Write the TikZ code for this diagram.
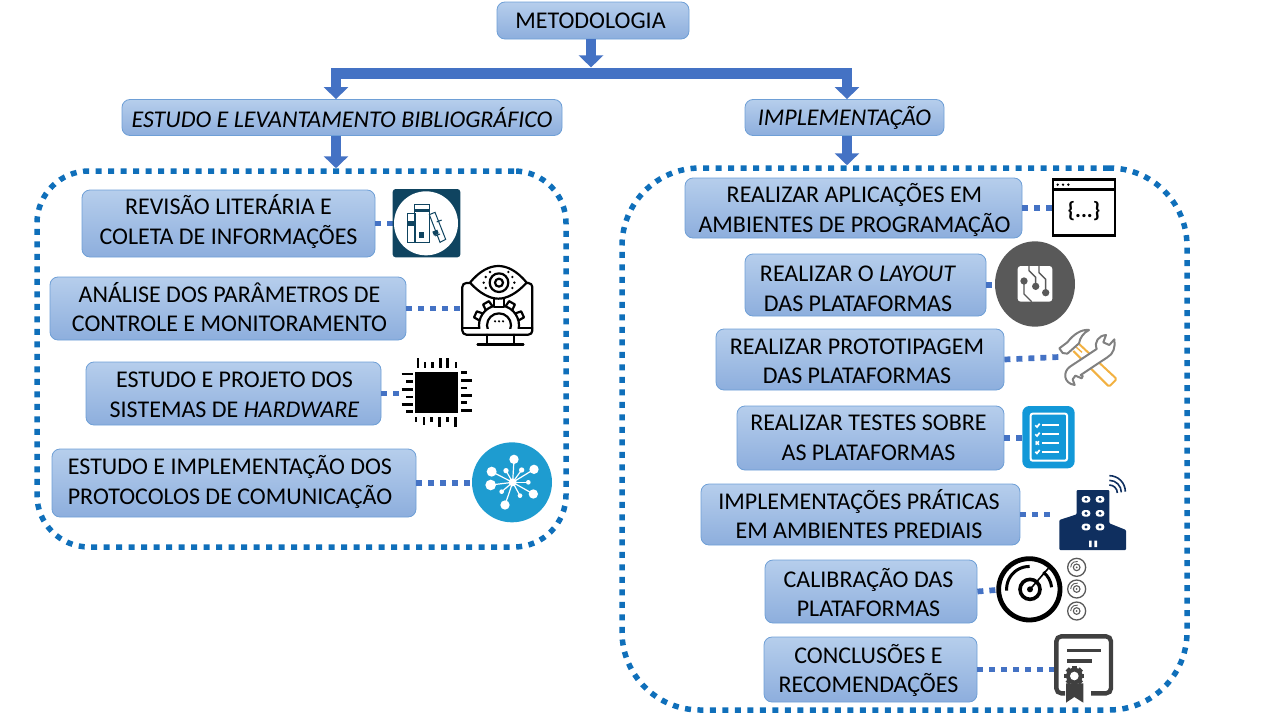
\documentclass[tikz,border=0pt]{standalone}
\usepackage{fontspec}
\setmainfont{Carlito}
\usetikzlibrary{arrows.meta,calc}
\definecolor{arrowblue}{HTML}{4472C4}
\definecolor{framedot}{HTML}{0F6FBA}
\definecolor{boxedge}{HTML}{6E9FD6}
\definecolor{boxtop}{HTML}{B6CEEC}
\definecolor{boxbot}{HTML}{8DAEDD}
\definecolor{teal}{HTML}{0F4460}
\definecolor{hubblue}{HTML}{1E9CD0}
\definecolor{listblue}{HTML}{1298D8}
\definecolor{navy}{HTML}{0F2F5F}
\definecolor{tgrey}{HTML}{808080}
\definecolor{torange}{HTML}{F2B141}
\definecolor{dkgrey}{HTML}{595959}
\definecolor{certgrey}{HTML}{404040}
% two centred lines, moved by dx and dy (dy downwards) inside their box
\newcommand{\ltx}[4]{\raisebox{\dimexpr 7.1pt-#2pt\relax}[0pt][0pt]{\makebox[0pt]{\hspace*{#1pt}\hspace*{#1pt}#3}}\raisebox{\dimexpr -22.4pt-#2pt\relax}[0pt][0pt]{\makebox[0pt]{\hspace*{#1pt}\hspace*{#1pt}#4}}}
\tikzset{
  bx/.style={draw=boxedge,line width=0.8pt,rounded corners=8pt,top color=boxtop,bottom color=boxbot,
    inner sep=0pt,font=\fontsize{24}{30}\selectfont,text=black},
  blockarrow/.style={draw=arrowblue,line width=10.5pt,-{Triangle[width=24pt,length=12pt]}},
  dotlink/.style={draw=arrowblue,line width=5.7pt,dash pattern=on 6pt off 6pt},
  framebox/.style={draw=framedot,line width=5.5pt,dash pattern=on 6pt off 6.5pt,inner sep=0pt},
  iconbox/.style={inner sep=0pt,outer sep=0pt},
  zoomed/.style 2 args={shift={(#1,#2)},x=0.33333pt,y=-0.33333pt},
}
\begin{document}
\begin{tikzpicture}[x=1pt,y=-1pt]
\useasboundingbox (0,0) rectangle (1280,720);

% dotted frames
\node[framebox,rounded corners=52pt,minimum width=529pt,minimum height=376pt] (lf) at (301.5,359) {};
\node[framebox,rounded corners=78pt,minimum width=565pt,minimum height=542pt] (rf) at (904.5,439) {};

% header boxes
\node[bx,minimum width=192pt,minimum height=37pt] (meto) at (593,20.5) {\hspace*{-5pt}METODOLOGIA};
\node[bx,minimum width=440pt,minimum height=36pt] (estudo) at (342,117.5) {\itshape ESTUDO E LEVANTAMENTO BIBLIOGRÁFICO};
\node[bx,minimum width=199pt,minimum height=36pt] (impl) at (844.5,117.5) {\itshape IMPLEMENTAÇÃO};

% left boxes
\node[bx,minimum width=293pt,minimum height=67pt] (b1) at (228.5,223.5) {\ltx{0}{-1.5}{REVISÃO LITERÁRIA E}{COLETA DE INFORMAÇÕES}};
\node[bx,minimum width=356pt,minimum height=63pt] (b2) at (228,308.5) {\ltx{1.5}{1}{ANÁLISE DOS PARÂMETROS DE}{CONTROLE E MONITORAMENTO}};
\node[bx,minimum width=295pt,minimum height=63pt] (b3) at (233.5,393.5) {\ltx{1}{1.5}{ESTUDO E PROJETO DOS}{SISTEMAS DE \textit{HARDWARE}}};
\node[bx,minimum width=364pt,minimum height=68pt] (b4) at (234,483) {\ltx{-4}{-1}{ESTUDO E IMPLEMENTAÇÃO DOS}{PROTOCOLOS DE COMUNICAÇÃO}};

% right boxes
\node[bx,minimum width=337pt,minimum height=60pt] (c1) at (853.5,208) {\ltx{1}{2}{REALIZAR APLICAÇÕES EM}{AMBIENTES DE PROGRAMAÇÃO}};
\node[bx,minimum width=241pt,minimum height=62pt] (c2) at (865.5,285) {\ltx{-7.5}{4}{REALIZAR O \textit{LAYOUT}}{DAS PLATAFORMAS}};
\node[bx,minimum width=288pt,minimum height=61pt] (c3) at (860,359.5) {\ltx{-3}{2}{REALIZAR PROTOTIPAGEM}{DAS PLATAFORMAS}};
\node[bx,minimum width=267pt,minimum height=64pt] (c4) at (870.5,438) {\ltx{-2}{0}{REALIZAR TESTES SOBRE}{AS PLATAFORMAS}};
\node[bx,minimum width=319pt,minimum height=61pt] (c5) at (860.5,514.5) {\ltx{-1.5}{2}{IMPLEMENTAÇÕES PRÁTICAS}{EM AMBIENTES PREDIAIS}};
\node[bx,minimum width=212pt,minimum height=63pt] (c6) at (871,591.5) {\ltx{-2.5}{3}{CALIBRAÇÃO DAS}{PLATAFORMAS}};
\node[bx,minimum width=213pt,minimum height=65pt] (c7) at (870.5,669.5) {\ltx{-2}{1}{CONCLUSÕES E}{RECOMENDAÇÕES}};

% block arrows
\coordinate (bar) at (591,73.5);
\draw[blockarrow] ([xshift=-2pt]meto.south) -- ++(0,28);
\draw[blockarrow] (bar) -| ([xshift=-6pt]estudo.north);
\draw[blockarrow] (bar) -| ([xshift=2.5pt]impl.north);
\draw[blockarrow] ([xshift=-6pt]estudo.south) -- ([xshift=-6pt]estudo.south |- lf.north);
\draw[blockarrow] ([xshift=2.5pt]impl.south) -- ([xshift=2.5pt]impl.south |- rf.north);

% icon anchors
\node[iconbox,minimum width=68pt,minimum height=68pt] (i1) at (426.5,223) {};
\node[iconbox,minimum width=70pt,minimum height=84pt] (i2) at (495,307) {};
\node[iconbox,minimum width=70pt,minimum height=72pt] (i3) at (436,392) {};
\node[iconbox,minimum width=80pt,minimum height=80pt] (i4) at (512,482) {};
\node[iconbox,minimum width=63pt,minimum height=58pt] (j1) at (1084,207) {};
\node[iconbox,minimum width=80pt,minimum height=86pt] (j2) at (1035,284) {};
\node[iconbox,minimum width=58pt,minimum height=60pt] (j3) at (1088,357) {};
\node[iconbox,minimum width=53pt,minimum height=63pt] (j4) at (1048,437) {};
\node[iconbox,minimum width=76pt,minimum height=74pt] (j5) at (1089,513) {};
\node[iconbox,minimum width=68pt,minimum height=68pt] (j6) at (1030,590) {};
\node[iconbox,minimum width=56pt,minimum height=68pt] (j7) at (1085,668) {};

% dotted links
\draw[dotlink] (b1.east) -- (b1.east -| i1.west);
\draw[dotlink] (b2.east) -- (b2.east -| i2.west);
\draw[dotlink] (b3.east) -- (b3.east -| i3.west);
\draw[dotlink] (b4.east) -- (b4.east -| i4.west);
\draw[dotlink] (c1.east) -- (c1.east -| j1.west);
\draw[dotlink] (c2.east) -- (c2.east -| j2.west);
\draw[dotlink] (c3.east) -- (j3.west);
\draw[dotlink] (c4.east) -- (c4.east -| j4.west);
\draw[dotlink] (c5.east) -- (c5.east -| j5.west);
\draw[dotlink] (c6.east) -- (j6.west);
\draw[dotlink] (c7.east) -- (c7.east -| j7.west);

% --- icon: books
\begin{scope}[zoomed={380}{180}]
  \fill[teal,rounded corners=3pt] (38,27) rectangle (241,232);
  \fill[white] (138,130) circle[radius=96];
  \begin{scope}[draw=teal,line width=1pt]
    \draw (81,100) rectangle (105,187);
    \draw (103,72) rectangle (147,187);
    \fill[teal] (81,122) rectangle (105,138);
    \fill[teal] (103,87) rectangle (147,97);
    \fill[teal] (116,157) rectangle (133,175);
    \draw (148,104) -- (165,97) -- (197,178) -- (180,187) -- cycle;
    \draw (170,126) -- (185,120);
    \draw (165,168) -- (180,162);
    \fill[teal] (157,155) -- (172,149) -- (176,160) -- (162,167) -- cycle;
  \end{scope}
\end{scope}

% --- icon: monitor with eye and gear
\begin{scope}[zoomed={455}{262},line width=2.2pt,line join=round,line cap=round]
  \draw[rounded corners=4pt] (48,63) -- (22,63) -- (22,218) -- (232,218) -- (232,63) -- (210,63);
  \draw (22,198) -- (232,198);
  \draw (95,218) -- (95,247) (177,218) -- (177,247);
  \draw[line width=2.6pt] (68,248) -- (205,248);
  \begin{scope}
    \clip (0,0) rectangle (240,198);
    \foreach \a in {25,60,120,155} {
      \draw[shift={(132,190)},rotate=\a,fill=white] (55,-12) -- (78,-10) -- (78,10) -- (55,12);
    }
    \draw[fill=white] (132,190) circle[radius=60];
    \draw (132,190) circle[radius=36];
    \fill[black] (120,178) circle[radius=3.5] (132,178) circle[radius=3.5] (144,178) circle[radius=3.5];
  \end{scope}
  \draw[fill=white] (118,108) -- (118,135) -- (146,135) -- (146,108);
  \draw[fill=white] (45,62) .. controls (75,25) and (105,12) .. (130,12) .. controls (155,12) and (185,25) .. (215,62) .. controls (185,95) and (155,110) .. (130,110) .. controls (105,110) and (75,95) .. (45,62) -- cycle;
  \draw (132,62) circle[radius=28] (132,62) circle[radius=12];
  \foreach \p in {(92,45),(86,62),(92,78),(172,45),(178,62),(172,78),(105,30),(160,30)} {\fill[black] \p circle[radius=4];}
\end{scope}

% --- icon: chip
\begin{scope}[zoomed={380}{350}]
  \fill[black] (105,65) rectangle (233,190);
  \begin{scope}[line width=2.7pt,draw=black]
    \foreach \x/\t in {114/24,135/36,158/36,182/24,203/24,228/36} {\draw (\x,\t) -- (\x,53);}
    \foreach \x/\b in {108/217,132/224,155/217,178/232,202/217,226/232} {\draw (\x,202) -- (\x,\b);}
    \foreach \y/\l in {72/65,95/78,118/65,141/78,163/65,185/78} {\draw (\l,\y) -- (98,\y);}
    \foreach \y/\r in {68/262,91/275,114/262,136/275,158/262,182/275} {\draw (243,\y) -- (\r,\y);}
  \end{scope}
\end{scope}

% --- icon: hub
\begin{scope}[zoomed={380}{350}]
  \fill[hubblue] (396,397) circle[radius=120];
  \foreach \x/\y/\r in {402/328/14,462/358/14,335/365/15,332/405/16,460/432/14,375/465/14,378/362/8,425/360/8,445/397/7,365/425/7,420/437/7} {
    \draw[white,line width=1.2pt] (398,397) -- (\x,\y);
    \fill[white] (\x,\y) circle[radius=\r];
  }
  \fill[white] (398,397) circle[radius=12];
\end{scope}

% --- icon: code window
\begin{scope}[zoomed={980}{170}]
  \draw[black,line width=2.4pt,fill=white] (219,28) rectangle (405,196);
  \draw[black,line width=2.4pt] (219,58) -- (405,58);
  \fill[black] (233,44) circle[radius=4] (249,44) circle[radius=4] (265,44) circle[radius=4];
  \node[inner sep=0pt,font=\fontsize{22}{22}\selectfont\bfseries] (codet) at (312,122) {\{...\}};
\end{scope}

% --- icon: circuit
\begin{scope}[zoomed={980}{170}]
  \fill[dkgrey] (165,342) ellipse[x radius=120,y radius=128];
  \fill[white,rounded corners=3pt] (113,288) rectangle (217,395);
  \begin{scope}[draw=dkgrey,line width=1.4pt]
    \draw (132,333) -- (132,372) -- (155,395);
    \draw (167,349) -- (167,322) -- (147,302) -- (147,288);
    \draw (197,368) -- (197,328) -- (177,308) -- (177,288);
    \fill[dkgrey] (132,333) circle[radius=11] (167,349) circle[radius=11] (197,368) circle[radius=11];
  \end{scope}
\end{scope}

% --- icon: tools
\begin{scope}[zoomed={1050}{325},line width=2pt,line join=round]
  \draw[torange,rounded corners=1.5pt] (83,53) -- (200,162) -- (177,185) -- (70,78);
  \draw[torange,line width=1.4pt] (78,66) -- (96,82);
  \draw[tgrey,fill=white] (28,70) -- (52,52) .. controls (70,28) and (95,12) .. (117,15) .. controls (100,24) and (90,38) .. (87,55) -- (52,86) -- (38,84) -- cycle;
  \draw[tgrey,fill=white] (168,30) .. controls (146,32) and (132,50) .. (140,72) -- (60,125) .. controls (38,140) and (40,175) .. (74,180) -- (68,163) -- (76,152) -- (95,160) .. controls (100,152) and (98,150) .. (92,150) -- (172,97) .. controls (190,88) and (197,65) .. (193,43) -- (178,60) -- (160,52) -- cycle;
\end{scope}

% --- icon: checklist
\begin{scope}[zoomed={980}{395}]
  \fill[listblue,rounded corners=7pt] (127,33) rectangle (284,220);
  \draw[white,line width=2pt,rounded corners=2pt] (152,56) rectangle (261,197);
  \foreach \y in {91,118,144,170} {\draw[white,line width=2pt] (187,\y) -- (237,\y);}
  \foreach \y in {91,118,170} {\draw[white,line width=1.7pt] (166,\y) -- (171,{\y+5}) -- (179,{\y-5});}
  \draw[white,line width=1.6pt] (167,139) -- (177,149) (177,139) -- (167,149);
\end{scope}

% --- icon: building
\begin{scope}[zoomed={980}{395}]
  \fill[navy,rounded corners=1pt] (238,465) -- (238,375) -- (290,358) -- (290,285) -- (388,285) -- (388,385) -- (438,405) -- (438,465) -- cycle;
  \foreach \x in {318,360} \foreach \y in {313,355,396} {
    \fill[white,rounded corners=3pt] (\x-13,\y-10) rectangle (\x+13,\y+10);
    \fill[navy] (\x,\y) circle[radius=5];
  }
  \fill[white] (327,437) rectangle (335,456) (343,437) rectangle (351,456);
  \begin{scope}[draw=navy,line width=1.6pt]
    \draw (388,270) arc[start angle=-90,delta angle=90,radius=24];
    \draw (388,256) arc[start angle=-90,delta angle=90,radius=36];
    \draw (388,242) arc[start angle=-90,delta angle=90,radius=48];
  \end{scope}
\end{scope}

% --- icon: gauge
\begin{scope}[zoomed={980}{550},line cap=butt]
  \draw[black,line width=4.8pt] (148,118) circle[radius=92];
  \draw[black,line width=3pt] (80,122) arc[start angle=176,delta angle=95,radius=68];
  \draw[black,line width=3pt] (190,66) arc[start angle=-51,delta angle=45,radius=68];
  \draw[black,line width=3.6pt] (150,118) circle[radius=30];
  \draw[black,line width=1.6pt] (150,118) -- (205,55);
  \fill[black] (150,118) circle[radius=9];
  \foreach \y in {52,117,183} {
    \draw[dkgrey,line width=1.3pt] (290,\y) circle[radius=27];
    \draw[dkgrey,line width=1.1pt] (290,\y) circle[radius=10];
    \draw[dkgrey,line width=0.9pt] (272,\y) arc[start angle=180,delta angle=100,radius=18];
    \fill[dkgrey] (290,\y) circle[radius=3];
  }
\end{scope}

% --- icon: certificate
\begin{scope}[zoomed={980}{550},certgrey]
  \draw[line width=4.4pt,rounded corners=5pt] (255,430) -- (229,430) -- (229,259) -- (393,259) -- (393,430) -- (333,430);
  \draw[line width=3.4pt] (262,301) -- (362,301);
  \draw[line width=3.4pt] (262,333) -- (335,333);
  \fill (258,400) -- (258,458) -- (283,441) -- (310,458) -- (310,400) -- cycle;
  \foreach \a in {0,45,...,315} {\fill[shift={(283,378)},rotate=\a] (-7,-30) rectangle (7,20);}
  \fill (283,378) circle[radius=25];
  \fill[white] (283,378) circle[radius=13];
\end{scope}
\end{tikzpicture}
\end{document}
